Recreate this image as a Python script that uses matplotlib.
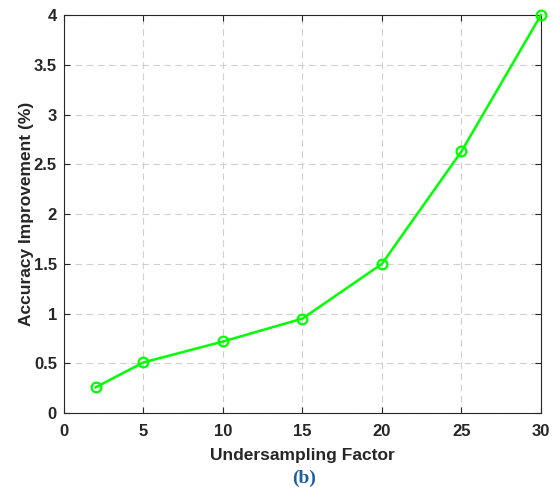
import matplotlib
matplotlib.use('Agg')
import matplotlib.pyplot as plt

# data
factor = [2, 5, 10, 15, 20, 25, 30]
improvement = [0.26, 0.51, 0.72, 0.95, 1.50, 2.63, 4.00]
xticks = [0, 5, 10, 15, 20, 25, 30]
yticks = [0, 0.5, 1, 1.5, 2, 2.5, 3, 3.5, 4]

plt.rcParams['font.family'] = ['Liberation Sans', 'DejaVu Sans']

fig = plt.figure(figsize=(5.56, 4.99), dpi=100)
ax = fig.add_axes([0.115, 0.172, 0.858, 0.798])

ax.plot(factor, improvement, '-o', color='#00ff00', lw=1.8, ms=7,
        mfc='none', mew=1.6, clip_on=False, zorder=3)

ax.set_xlim(0, 30); ax.set_ylim(0, 4)
ax.set_xticks(xticks); ax.set_yticks(yticks)
ax.set_yticklabels([f'{v:g}' for v in yticks])
ax.tick_params(direction='in', top=True, right=True, length=4, width=0.8,
               labelsize=12, colors='#262626')
ax.tick_params(axis='x', pad=8)
ax.tick_params(axis='y', pad=5)
for lab in ax.get_xticklabels() + ax.get_yticklabels():
    lab.set_fontweight('bold')
for s in ax.spines.values():
    s.set_color('#262626'); s.set_linewidth(0.8)
ax.grid(True, linestyle=(0, (6, 4)), color='#d0d0d0', lw=0.8)
ax.set_axisbelow(True)

ax.set_xlabel('Undersampling Factor', fontsize=12.5, fontweight='bold', color='#262626', labelpad=6)
ax.set_ylabel('Accuracy Improvement (%)', fontsize=12.5, fontweight='bold', color='#262626', labelpad=0)

fig.text(0.547, 0.042, '(b)', ha='center', va='center', fontsize=14,
         fontweight='bold', color='#1f5f9f', family=['Liberation Serif', 'DejaVu Serif'])

fig.savefig('out.png', dpi=100)
